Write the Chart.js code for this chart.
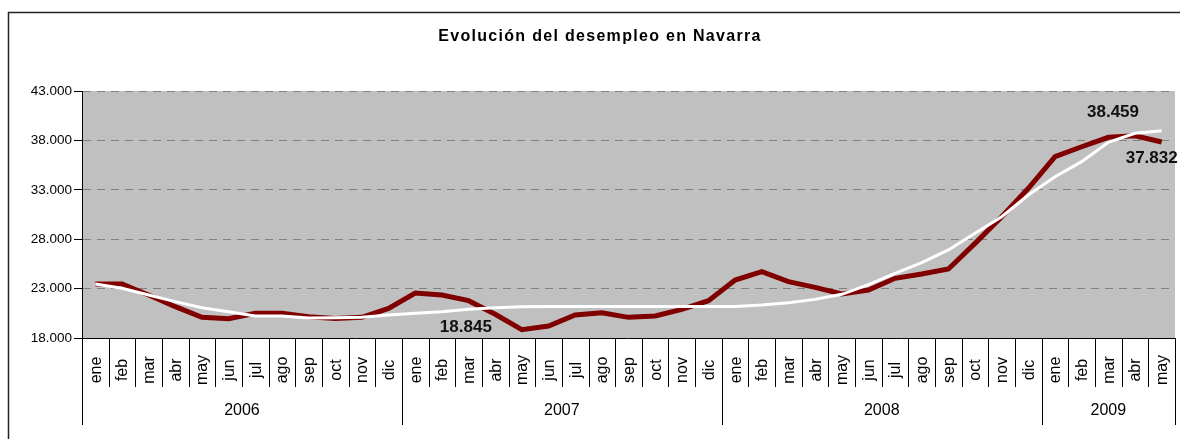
<!DOCTYPE html>
<html>
<head>
<meta charset="utf-8">
<script src="https://cdn.jsdelivr.net/npm/chart.js@4.4.1/dist/chart.umd.min.js"></script>
<style>
  html, body { margin: 0; padding: 0; background: #fff; }
  canvas { display: block; }
</style>
</head>
<body>
<canvas id="chart" width="1180" height="439"></canvas>
<script>
const title = 'Evolución del desempleo en Navarra';
const years = ['2006', '2007', '2008', '2009'];
const monthNames = ['ene', 'feb', 'mar', 'abr', 'may', 'jun', 'jul', 'ago', 'sep', 'oct', 'nov', 'dic'];
const monthsPerYear = [12, 12, 12, 5];

// paro registrado (linea granate)
const paro = [
    23466, 23466, 22350, 21170, 20095, 19950, 20500, 20500, 20160, 19980, 20090, 21000,
    22550, 22350, 21780, 20400, 18845, 19215, 20330, 20560, 20090, 20230, 20900, 21780,
    23870, 24710, 23700, 23130, 22450, 22860, 24040, 24480, 24985, 27580, 30280, 33150,
    36350, 37360, 38310, 38459, 37832
];

// tendencia (linea blanca)
const tendencia = [
    23466, 23030, 22350, 21680, 21070, 20660, 20230, 20230, 20020, 20050, 20090, 20330,
    20500, 20660, 20900, 21070, 21170, 21200, 21200, 21200, 21200, 21200, 21200, 21200,
    21200, 21340, 21570, 21910, 22420, 23400, 24550, 25620, 26910, 28600, 30280, 32470,
    34330, 35850, 37800, 38720, 38980
];

const yMin = 18000;
const yMax = 43000;
const yStep = 5000;

// labels shown on the red line: index and offset of the text
const valueLabels = [
    { index: 16, dx: -56, dy: -2 },
    { index: 39, dx: -22, dy: -24 },
    { index: 40, dx: -10, dy: 16 }
];

const labels = [];
monthsPerYear.forEach((n, y) => {
    for (let m = 0; m < n; m++) labels.push(monthNames[m] + ' ' + years[y]);
});

const fmt = v => String(v).replace(/\B(?=(\d{3})+(?!\d))/g, '.');
const FONT = 'Arial, "Liberation Sans", sans-serif';

const decor = {
    id: 'decor',
    beforeDraw(chart) {
        const { ctx, chartArea: a } = chart;
        ctx.save();
        ctx.fillStyle = '#fff';
        ctx.fillRect(0, 0, chart.width, chart.height);
        ctx.strokeStyle = '#222';
        ctx.lineWidth = 1.5;
        ctx.strokeRect(8.5, 12.5, 1300, 600);
        ctx.fillStyle = '#c0c0c0';
        ctx.fillRect(a.left, a.top, a.right - a.left, a.bottom - a.top);
        ctx.restore();
    },
    afterDraw(chart) {
        const { ctx, chartArea: a } = chart;
        const x = chart.scales.x;
        const w = x.getPixelForValue(1) - x.getPixelForValue(0);
        ctx.save();

        // title
        ctx.fillStyle = '#000';
        ctx.font = 'bold 16px ' + FONT;
        ctx.textAlign = 'center';
        ctx.textBaseline = 'middle';
        try { ctx.letterSpacing = '1.3px'; } catch (e) {}
        ctx.fillText(title, 600, 37);
        try { ctx.letterSpacing = '0px'; } catch (e) {}

        // axis line
        ctx.strokeStyle = '#000';
        ctx.lineWidth = 1;
        ctx.beginPath();
        ctx.moveTo(a.left, Math.round(a.bottom) + 0.5);
        ctx.lineTo(a.right, Math.round(a.bottom) + 0.5);
        ctx.stroke();

        // month separators and year separators
        let start = 0;
        const yearEdges = [0];
        monthsPerYear.forEach(n => { start += n; yearEdges.push(start); });
        for (let i = 0; i <= labels.length; i++) {
            const px = Math.round(x.getPixelForValue(i) - w / 2) + 0.5;
            const isYear = yearEdges.includes(i);
            ctx.beginPath();
            ctx.moveTo(px, a.bottom);
            ctx.lineTo(px, isYear ? 425 : 387);
            ctx.stroke();
        }

        // month labels
        ctx.font = '16px ' + FONT;
        labels.forEach((lab, i) => {
            const px = x.getPixelForValue(i);
            ctx.save();
            ctx.translate(px + 1, 370);
            ctx.rotate(-Math.PI / 2);
            ctx.fillText(lab.split(' ')[0], 0, 0);
            ctx.restore();
        });

        // year labels
        years.forEach((yr, k) => {
            const x0 = x.getPixelForValue(yearEdges[k]) - w / 2;
            const x1 = x.getPixelForValue(yearEdges[k + 1]) - w / 2;
            ctx.fillText(yr, (x0 + x1) / 2, 411);
        });

        ctx.restore();
    },
    afterDatasetsDraw(chart) {
        const { ctx } = chart;
        const meta = chart.getDatasetMeta(0);
        ctx.save();
        ctx.fillStyle = '#111';
        ctx.font = 'bold 17px ' + FONT;
        ctx.textAlign = 'center';
        ctx.textBaseline = 'middle';
        valueLabels.forEach(l => {
            const pt = meta.data[l.index];
            ctx.fillText(fmt(paro[l.index]), pt.x + l.dx, pt.y + l.dy);
        });
        ctx.restore();
    }
};

new Chart(document.getElementById('chart').getContext('2d'), {
    type: 'line',
    data: {
        labels: labels,
        datasets: [{
            label: 'Paro registrado',
            data: paro,
            borderColor: '#800000',
            borderWidth: 5,
            pointRadius: 0,
            tension: 0,
            order: 2
        }, {
            label: 'Tendencia',
            data: tendencia,
            borderColor: '#ffffff',
            borderWidth: 3,
            pointRadius: 0,
            tension: 0,
            order: 1
        }]
    },
    options: {
        responsive: false,
        animation: false,
        devicePixelRatio: 1,
        layout: { padding: { left: 0, right: 5, top: 91, bottom: 101 } },
        plugins: {
            legend: { display: false },
            tooltip: { enabled: false },
            title: { display: false }
        },
        scales: {
            x: {
                display: false,
                offset: true
            },
            y: {
                min: yMin,
                max: yMax,
                afterFit(scale) { scale.width = 82; },
                ticks: {
                    stepSize: yStep,
                    padding: 2,
                    color: '#000',
                    font: { family: FONT, size: 13.5 },
                    callback: v => fmt(v)
                },
                grid: {
                    color: ctx => ctx.tick && ctx.tick.value === yMin ? 'rgba(0,0,0,0)' : '#808080',
                    tickColor: '#000',
                    tickLength: 8,
                    tickBorderDash: []
                },
                border: {
                    display: true,
                    color: '#000',
                    width: 1,
                    dash: [8, 6]
                }
            }
        }
    },
    plugins: [decor]
});
</script>
</body>
</html>
